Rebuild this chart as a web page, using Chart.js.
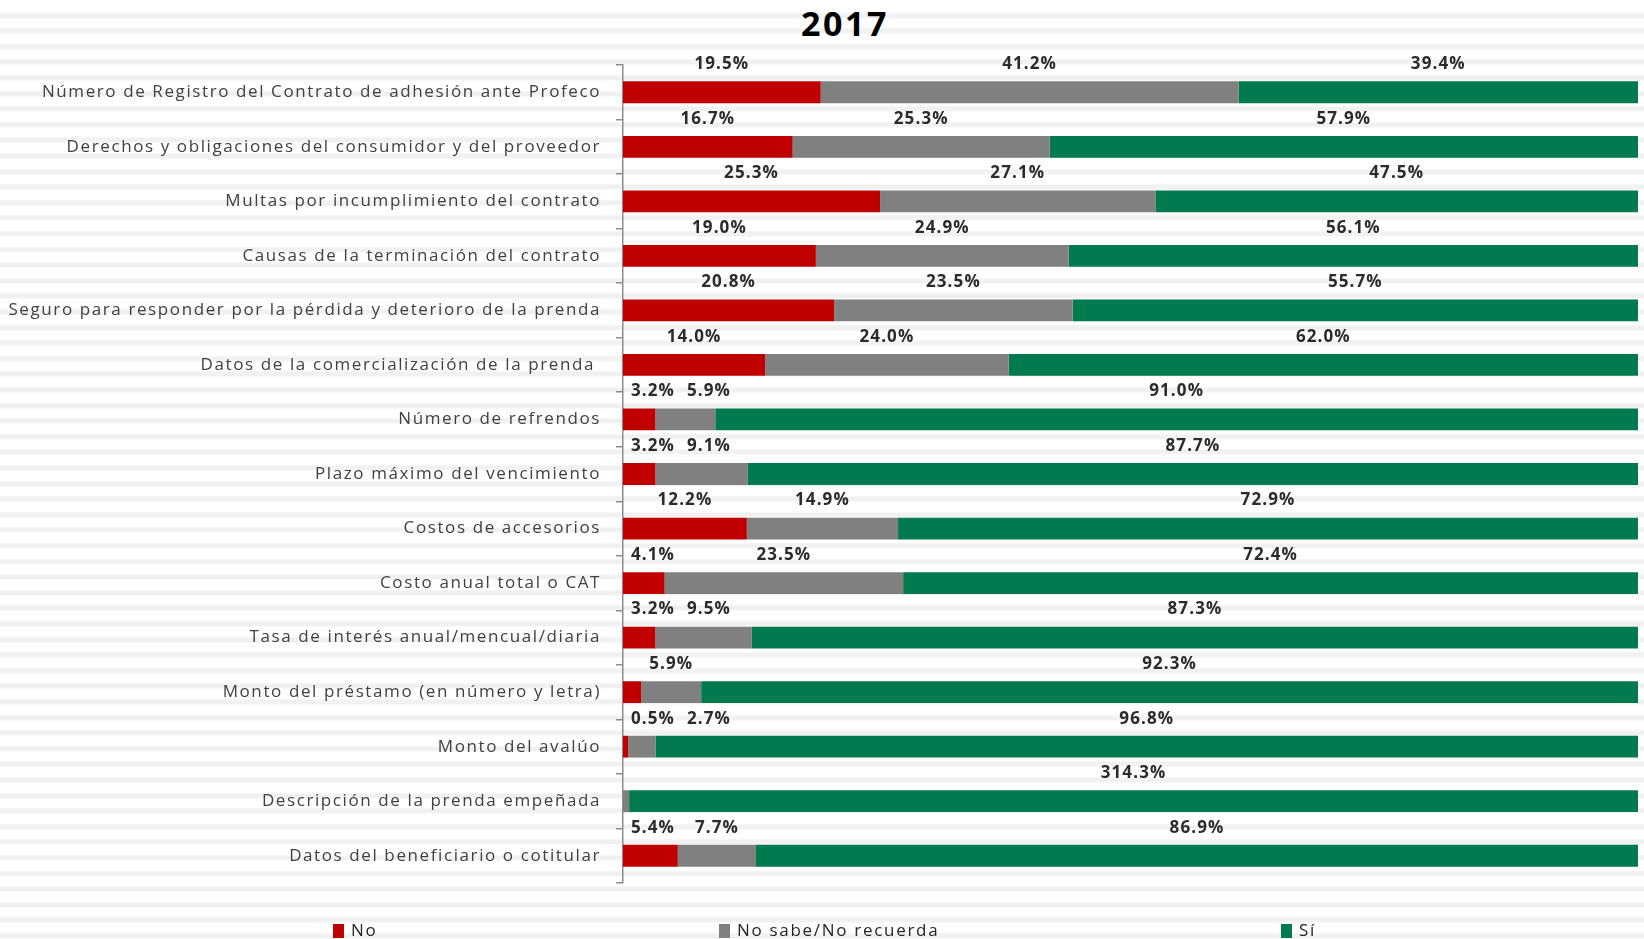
<!DOCTYPE html>
<html lang="es">
<head>
<meta charset="utf-8">
<title>2017</title>
<script src="https://cdn.jsdelivr.net/npm/chart.js@4/dist/chart.umd.min.js"></script>
<style>
  html, body { margin: 0; padding: 0; }
  body {
    width: 1644px;
    height: 939px;
    overflow: hidden;
    position: relative;
    font-family: "Open Sans", sans-serif;
    background: repeating-linear-gradient(to bottom, #ffffff 0, #ffffff 10.6px, #f1f1f1 10.6px, #f1f1f1 15.6px);
    background-position: 0 2.4px;
  }
  #title {
    position: absolute;
    left: 745px;
    top: 6px;
    width: 200px;
    text-align: center;
    font-weight: bold;
    font-size: 34px;
    line-height: 34px;
    letter-spacing: 2.5px;
    color: #000;
  }
  #wrap { position: absolute; left: 0; top: 0; width: 1644px; height: 939px; }
  .legend-item {
    position: absolute;
    top: 921px;
    font-size: 17px;
    line-height: 17px;
    letter-spacing: 1.7px;
    color: #262626;
    white-space: nowrap;
  }
  .legend-item i {
    display: inline-block;
    width: 11px;
    height: 14px;
    margin-right: 7px;
    vertical-align: -2px;
  }
</style>
</head>
<body>
<div id="title">2017</div>
<div id="wrap"><canvas id="chart"></canvas></div>
<div id="legend"></div>

<script>
const categories = [
  "Número de Registro del Contrato de adhesión ante Profeco",
  "Derechos y obligaciones del consumidor y del proveedor",
  "Multas por incumplimiento del contrato",
  "Causas de la terminación del contrato",
  "Seguro para responder por la pérdida y deterioro de la prenda",
  "Datos de la comercialización de la prenda ",
  "Número de refrendos",
  "Plazo máximo del vencimiento",
  "Costos de accesorios",
  "Costo anual total o CAT",
  "Tasa de interés anual/mencual/diaria",
  "Monto del préstamo (en número y letra)",
  "Monto del avalúo",
  "Descripción de la prenda empeñada",
  "Datos del beneficiario o cotitular"
];

const noValues     = [19.5, 16.7, 25.3, 19.0, 20.8, 14.0, 3.2, 3.2, 12.2, 4.1, 3.2, 1.8, 0.5, 0, 5.4];
const noSabeValues = [41.2, 25.3, 27.1, 24.9, 23.5, 24.0, 5.9, 9.1, 14.9, 23.5, 9.5, 5.9, 2.7, 1.9, 7.7];
const siValues     = [39.4, 57.9, 47.5, 56.1, 55.7, 62.0, 91.0, 87.7, 72.9, 72.4, 87.3, 92.3, 96.8, 314.3, 86.9];

const seriesNames  = ["No", "No sabe/No recuerda", "Sí"];
const seriesColors = ["#c00000", "#808080", "#007a4e"];

// segments that carry no value label ("row:series")
const hiddenLabels = ["11:0", "13:0", "13:1"];

// bars are drawn as share of the row total (100% stacked)
const rawSeries = [noValues, noSabeValues, siValues];
const totals = categories.map((c, i) => rawSeries.reduce((a, s) => a + s[i], 0));

const datasets = rawSeries.map((vals, d) => ({
  label: seriesNames[d],
  raw: vals,
  data: vals.map((v, i) => v / totals[i] * 100),
  backgroundColor: seriesColors[d],
  borderWidth: 0,
  barPercentage: 0.4,
  categoryPercentage: 1.0
}));

// value labels above each segment, pushed right when they would overlap
const segmentLabels = {
  id: "segmentLabels",
  afterDatasetsDraw(chart) {
    const ctx = chart.ctx;
    ctx.save();
    ctx.font = 'bold 17px "Open Sans"';
    ctx.letterSpacing = "1.1px";
    ctx.fillStyle = "#2b2b2b";
    ctx.textAlign = "left";
    ctx.textBaseline = "middle";
    const left = chart.chartArea.left;

    categories.forEach((c, i) => {
      let prevRight = left - 4;
      chart.data.datasets.forEach((ds, d) => {
        if (hiddenLabels.includes(i + ":" + d)) return;
        const bar = chart.getDatasetMeta(d).data[i];
        const text = ds.raw[i].toFixed(1) + "%";
        const w = ctx.measureText(text).width;
        let x = (bar.base + bar.x) / 2 - w / 2;
        x = Math.max(x, prevRight + 12);
        ctx.fillText(text, x, bar.y - 28);
        prevRight = x + w;
      });
    });
    ctx.restore();
  }
};

const tickSpacing = {
  id: "tickSpacing",
  beforeDraw(chart) { chart.ctx.letterSpacing = "1.6px"; },
  afterDraw(chart) { chart.ctx.letterSpacing = "0px"; }
};

new Chart(document.getElementById("chart"), {
  type: "bar",
  data: { labels: categories, datasets },
  options: {
    indexAxis: "y",
    responsive: true,
    maintainAspectRatio: false,
    animation: false,
    layout: { padding: { top: 65, bottom: 56, right: 6, left: 0 } },
    plugins: {
      legend: { display: false },
      tooltip: { enabled: false }
    },
    scales: {
      x: { stacked: true, min: 0, max: 100, display: false },
      y: {
        stacked: true,
        grid: {
          offset: true,
          drawOnChartArea: false,
          drawTicks: true,
          tickLength: 7,
          color: "#8c8c8c",
          lineWidth: 1.5
        },
        border: { color: "#8c8c8c", width: 1.5 },
        ticks: {
          autoSkip: false,
          padding: 15,
          color: "#404040",
          font: { family: "Open Sans", size: 17 }
        },
        afterFit(scale) { scale.width = 623; }
      }
    }
  },
  plugins: [segmentLabels, tickSpacing]
});

// legend placed under the plot
const legendX = [333, 719, 1281];
const legend = document.getElementById("legend");
seriesNames.forEach((name, d) => {
  const item = document.createElement("div");
  item.className = "legend-item";
  item.style.left = legendX[d] + "px";
  item.innerHTML = '<i style="background:' + seriesColors[d] + '"></i>' + name;
  legend.appendChild(item);
});
</script>
</body>
</html>
